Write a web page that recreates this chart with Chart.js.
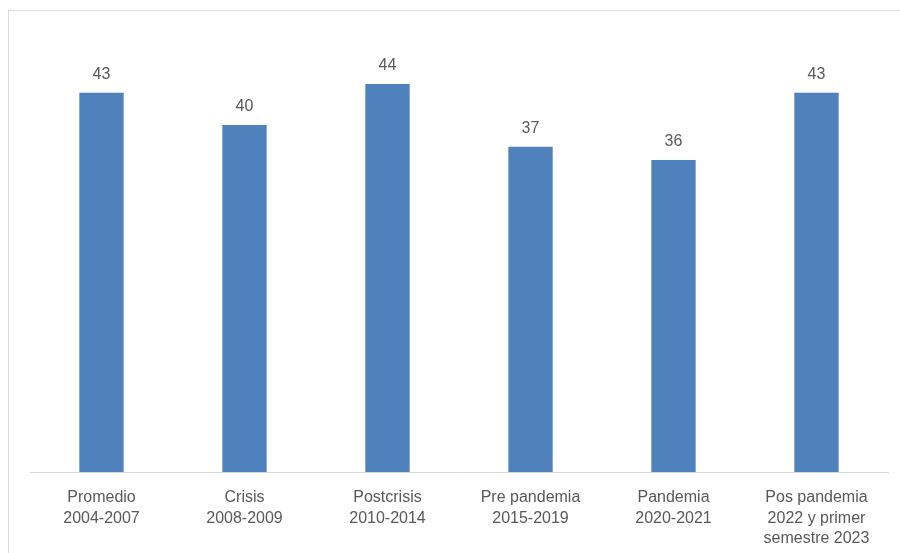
<!DOCTYPE html>
<html>
<head>
<meta charset="utf-8">
<script src="https://cdn.jsdelivr.net/npm/chart.js@4.4.1/dist/chart.umd.min.js"></script>
<style>
  html, body { margin: 0; padding: 0; background: #fff; }
  #wrap { position: relative; width: 900px; height: 553px; overflow: hidden; }
  #frame { position: absolute; left: 8px; top: 10px; width: 1000px; height: 1000px;
           border: 1px solid #d9d9d9; box-sizing: border-box; }
  #chart { position: absolute; left: 0; top: 0; }
</style>
</head>
<body>
<div id="wrap">
  <div id="frame"></div>
  <canvas id="chart" width="900" height="553"></canvas>
</div>
<script>
var periodos = [
  ["Promedio", "2004-2007"],
  ["Crisis", "2008-2009"],
  ["Postcrisis", "2010-2014"],
  ["Pre pandemia", "2015-2019"],
  ["Pandemia", "2020-2021"],
  ["Pos pandemia", "2022 y primer", "semestre 2023"]
];
var valores = [43.4, 39.7, 44.4, 37.2, 35.7, 43.4];

var textColor = "#595959";
var fontFamily = "'Liberation Sans', Arial, sans-serif";

// etiquetas de valor encima de cada barra
var valueLabels = {
  id: "valueLabels",
  afterDatasetsDraw: function (chart) {
    var ctx = chart.ctx;
    var meta = chart.getDatasetMeta(0);
    ctx.save();
    ctx.fillStyle = textColor;
    ctx.font = "16px " + fontFamily;
    ctx.textAlign = "center";
    ctx.textBaseline = "middle";
    meta.data.forEach(function (bar, i) {
      ctx.fillText(Math.round(valores[i]).toString(), bar.x, bar.y - 18);
    });
    ctx.restore();
  }
};

var ctx = document.getElementById("chart").getContext("2d");
var chart = new Chart(ctx, {
  type: "bar",
  data: {
    labels: periodos,
    datasets: [
      {
        data: valores,
        backgroundColor: "#4F81BD",
        borderWidth: 0,
        categoryPercentage: 1,
        barPercentage: 0.31
      }
    ]
  },
  options: {
    responsive: false,
    animation: false,
    layout: { padding: { left: 30, right: 12, top: 35, bottom: 0 } },
    plugins: { legend: { display: false }, tooltip: { enabled: false } },
    scales: {
      x: {
        grid: { display: false, drawTicks: false },
        border: { display: true, color: "#d9d9d9", width: 1 },
        ticks: {
          color: textColor,
          padding: 15,
          maxRotation: 0,
          autoSkip: false,
          font: { family: fontFamily, size: 16, lineHeight: 1.3 }
        },
        afterFit: function (scale) { scale.height = 81; }
      },
      y: {
        display: false,
        min: 0,
        max: 50
      }
    }
  },
  plugins: [valueLabels]
});
</script>
</body>
</html>
